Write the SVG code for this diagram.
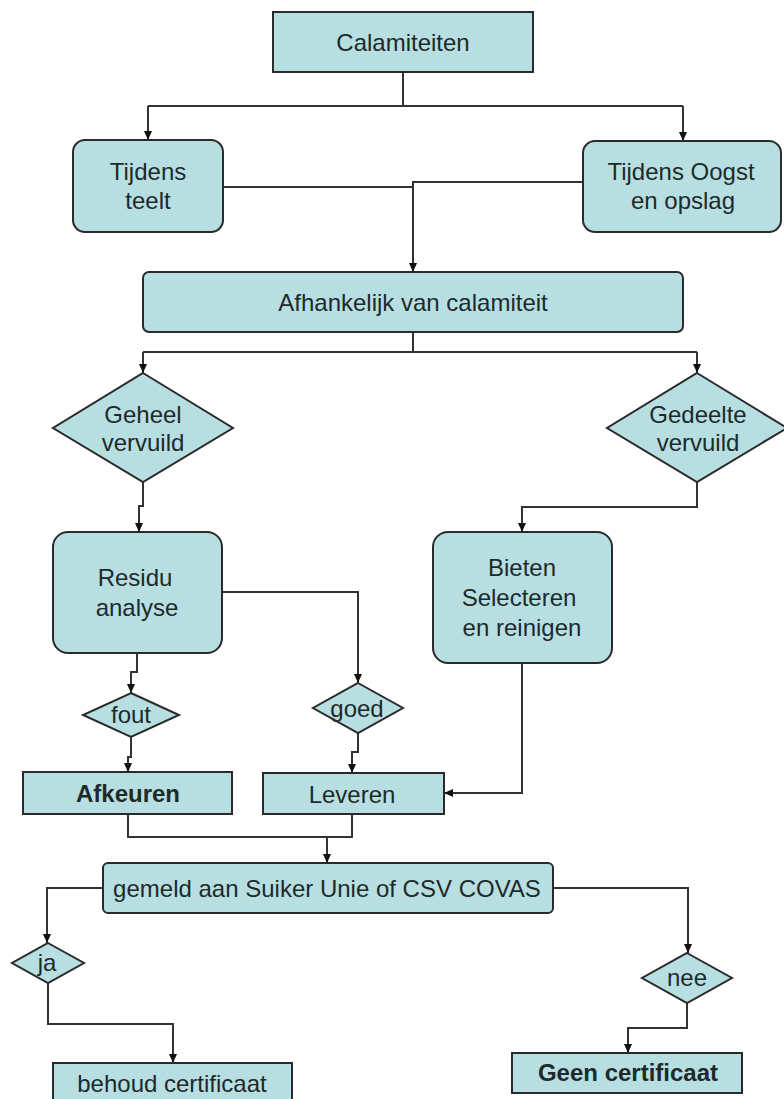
<svg xmlns="http://www.w3.org/2000/svg" width="784" height="1099" viewBox="0 0 784 1099">
<style>
.n{fill:#b7dee1;stroke:#2a2a2a;stroke-width:2}
.t{font-family:"Liberation Sans",Arial,sans-serif;font-size:24px;fill:#1e2a2a;text-anchor:middle}
.b{font-weight:bold}
.c{fill:none;stroke:#333;stroke-width:2}
</style>
<defs>
<marker id="ar" markerWidth="10" markerHeight="10" refX="9" refY="5" orient="auto" markerUnits="userSpaceOnUse">
<path d="M0,1 L9,5 L0,9 Z" fill="#111"/>
</marker>
</defs>
<rect width="784" height="1099" fill="#fff"/>
<g id="connectors">
<path class="c" d="M403,72 V106"/>
<path class="c" d="M148,106 H683"/>
<path class="c" d="M148,106 V140" marker-end="url(#ar)"/>
<path class="c" d="M683,106 V141" marker-end="url(#ar)"/>
<path class="c" d="M222,187 H413"/>
<path class="c" d="M583,182 H413 V272" marker-end="url(#ar)"/>
<path class="c" d="M413,332 V352"/>
<path class="c" d="M143,352 H697"/>
<path class="c" d="M143,352 V373" marker-end="url(#ar)"/>
<path class="c" d="M697,352 V373" marker-end="url(#ar)"/>
<path class="c" d="M143,482 V506 H139 V532" marker-end="url(#ar)"/>
<path class="c" d="M697,482 V507 H522 V532" marker-end="url(#ar)"/>
<path class="c" d="M137,653 V672 H131 V693" marker-end="url(#ar)"/>
<path class="c" d="M222,592 H358 V683" marker-end="url(#ar)"/>
<path class="c" d="M131,737 V757 H128 V772" marker-end="url(#ar)"/>
<path class="c" d="M358,733 V752 H352 V773" marker-end="url(#ar)"/>
<path class="c" d="M522,663 V793 H444" marker-end="url(#ar)"/>
<path class="c" d="M128,814 V837 H352 V814"/>
<path class="c" d="M327,837 V863" marker-end="url(#ar)"/>
<path class="c" d="M103,888 H47 V943" marker-end="url(#ar)"/>
<path class="c" d="M48,983 V1024 H173 V1063" marker-end="url(#ar)"/>
<path class="c" d="M553,888 H688 V953" marker-end="url(#ar)"/>
<path class="c" d="M687,1003 V1028 H628 V1053" marker-end="url(#ar)"/>
</g>
<g id="calamiteiten">
<rect class="n" x="273" y="12" width="260" height="60"/>
<text class="t" x="403" y="51">Calamiteiten</text>
</g>
<g id="tijdens-teelt">
<rect class="n" x="73" y="140" width="150" height="92" rx="12"/>
<text class="t" x="148" y="180">Tijdens</text>
<text class="t" x="148" y="209">teelt</text>
</g>
<g id="tijdens-oogst">
<rect class="n" x="583" y="141" width="198" height="91" rx="12"/>
<text class="t" x="681" y="180">Tijdens Oogst</text>
<text class="t" x="683" y="209">en opslag</text>
</g>
<g id="afhankelijk">
<rect class="n" x="143" y="272" width="540" height="60" rx="6"/>
<text class="t" x="413" y="311">Afhankelijk van calamiteit</text>
</g>
<g id="geheel-vervuild">
<polygon class="n" points="143,373 233,428 143,482 53,428"/>
<text class="t" x="143" y="423">Geheel</text>
<text class="t" x="143" y="451">vervuild</text>
</g>
<g id="gedeelte-vervuild">
<polygon class="n" points="697,373 787,428 697,482 607,428"/>
<text class="t" x="698" y="423">Gedeelte</text>
<text class="t" x="698" y="451">vervuild</text>
</g>
<g id="residu">
<rect class="n" x="53" y="532" width="169" height="121" rx="15"/>
<text class="t" x="135" y="586">Residu</text>
<text class="t" x="137" y="616">analyse</text>
</g>
<g id="bieten">
<rect class="n" x="433" y="532" width="179" height="131" rx="15"/>
<text class="t" x="522" y="576">Bieten</text>
<text class="t" x="519" y="606">Selecteren</text>
<text class="t" x="522" y="636">en reinigen</text>
</g>
<g id="fout">
<polygon class="n" points="131,693 179,715 131,737 83,715"/>
<text class="t" x="131" y="723">fout</text>
</g>
<g id="goed">
<polygon class="n" points="358,683 403,708 358,733 313,708"/>
<text class="t" x="357" y="717">goed</text>
</g>
<g id="afkeuren">
<rect class="n" x="23" y="772" width="209" height="42"/>
<text class="t b" x="128" y="802">Afkeuren</text>
</g>
<g id="leveren">
<rect class="n" x="263" y="773" width="181" height="41"/>
<text class="t" x="352" y="803">Leveren</text>
</g>
<g id="gemeld">
<rect class="n" x="103" y="863" width="450" height="50" rx="5"/>
<text class="t" x="327" y="897">gemeld aan Suiker Unie of CSV COVAS</text>
</g>
<g id="ja">
<polygon class="n" points="48,943 84,963 48,983 12,963"/>
<text class="t" x="47" y="971">ja</text>
</g>
<g id="nee">
<polygon class="n" points="687,953 732,978 687,1003 642,978"/>
<text class="t" x="687" y="986">nee</text>
</g>
<g id="behoud">
<rect class="n" x="53" y="1063" width="239" height="50"/>
<text class="t" x="172" y="1092">behoud certificaat</text>
</g>
<g id="geen">
<rect class="n" x="512" y="1053" width="230" height="40"/>
<text class="t b" x="628" y="1081">Geen certificaat</text>
</g>
</svg>
